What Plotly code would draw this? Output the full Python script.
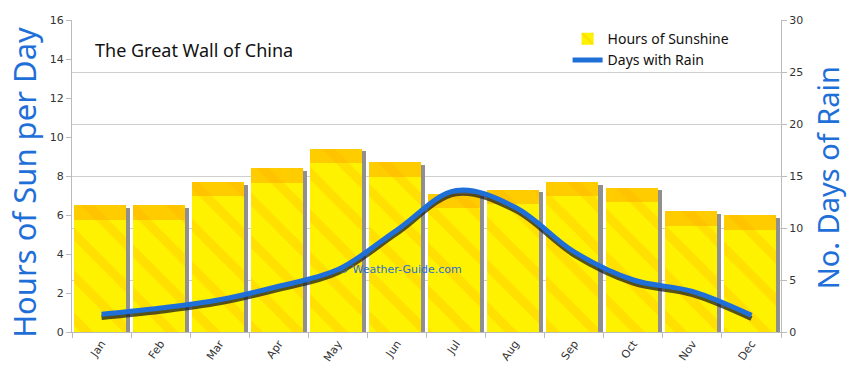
import plotly.graph_objects as go

months = ["Jan", "Feb", "Mar", "Apr", "May", "Jun", "Jul", "Aug", "Sep", "Oct", "Nov", "Dec"]
sun_hours = [6.5, 6.5, 7.7, 8.4, 9.4, 8.7, 7.1, 7.3, 7.7, 7.4, 6.2, 6.0]
rain_days = [1.7, 2.3, 3.1, 4.4, 6.0, 9.8, 13.6, 12.0, 7.7, 5.0, 3.9, 1.6]
sun_ticks = [0, 2, 4, 6, 8, 10, 12, 14, 16]
rain_ticks = [0, 5, 10, 15, 20, 25, 30]

BLUE = "#1f6fd8"
TICKFONT = dict(family="DejaVu Sans", size=11, color="#333333")
HAND = "Noto Sans"

fig = go.Figure()

# bar shadows
fig.add_trace(go.Bar(
    x=months, y=[v - 0.14 for v in sun_hours], width=0.88, offset=-0.40,
    marker=dict(color="#8f8f8f", line=dict(width=0)),
    showlegend=False, hoverinfo="skip", yaxis="y"))

# main bars
fig.add_trace(go.Bar(
    x=months, y=sun_hours, width=0.88, offset=-0.47, name="Hours of Sunshine",
    marker=dict(color="#fff200", line=dict(width=0),
                pattern=dict(shape="\\", fgcolor="#ffb400", fgopacity=0.3,
                             size=30, solidity=0.3)),
    yaxis="y"))

# orange top band on each bar
fig.add_trace(go.Bar(
    x=months, y=[0.75] * len(months), base=[v - 0.75 for v in sun_hours],
    width=0.88, offset=-0.47,
    marker=dict(color="rgba(255,165,0,0.5)", line=dict(width=0)),
    showlegend=False, hoverinfo="skip", yaxis="y"))

# line shadow
fig.add_trace(go.Scatter(
    x=months, y=[v - 0.3 for v in rain_days], mode="lines",
    line=dict(color="rgba(30,30,30,0.75)", width=5, shape="spline"),
    showlegend=False, hoverinfo="skip", yaxis="y2"))

# rain line
fig.add_trace(go.Scatter(
    x=months, y=rain_days, mode="lines", name="Days with Rain",
    line=dict(color=BLUE, width=5, shape="spline"), yaxis="y2"))

fig.update_layout(
    width=850, height=374,
    margin=dict(l=72, r=69, t=20, b=42, autoexpand=False),
    paper_bgcolor="white", plot_bgcolor="white",
    barmode="overlay", bargap=0,
    showlegend=True,
    legend=dict(x=0.699, y=0.99, xanchor="left", yanchor="top",
                font=dict(family=HAND, size=14, color="#111111"),
                bgcolor="rgba(0,0,0,0)", itemwidth=30, tracegroupgap=2),
    xaxis=dict(type="category", showgrid=False, showline=True, linecolor="#bbbbbb",
               linewidth=1, ticks="outside", tickson="boundaries", ticklen=5,
               tickcolor="#bbbbbb", tickangle=-55, tickfont=TICKFONT,
               range=[-0.5, 11.5], automargin=False),
    yaxis=dict(range=[0, 16], tickvals=sun_ticks, showgrid=False, showline=True,
               linecolor="#bbbbbb", ticks="outside", ticklen=5, tickcolor="#bbbbbb",
               tickfont=TICKFONT, zeroline=False, automargin=False),
    yaxis2=dict(range=[0, 30], tickvals=rain_ticks, overlaying="y", side="right",
                showgrid=True, gridcolor="#cfcfcf", gridwidth=1, showline=True,
                linecolor="#bbbbbb", ticks="outside", ticklen=5, tickcolor="#bbbbbb",
                tickfont=TICKFONT, zeroline=False, automargin=False),
    annotations=[
        dict(text="The Great Wall of China", xref="paper", yref="paper",
             x=0.0296, y=0.904, xanchor="left", yanchor="middle", showarrow=False,
             font=dict(family=HAND, size=18, color="#111111")),
        dict(text="© Weather-Guide.com", xref="paper", yref="paper",
             x=0.4626, y=0.199, xanchor="center", yanchor="middle", showarrow=False,
             font=dict(family="DejaVu Sans", size=11, color="#2a6fd1")),
        dict(text="Hours of Sun per Day", xref="paper", yref="paper",
             x=-0.0677, y=0.478, xanchor="center", yanchor="middle", textangle=-90,
             showarrow=False, font=dict(family=HAND, size=31, color=BLUE)),
        dict(text="No. Days of Rain", xref="paper", yref="paper",
             x=1.066, y=0.495, xanchor="center", yanchor="middle", textangle=-90,
             showarrow=False, font=dict(family=HAND, size=29, color=BLUE)),
    ],
)

fig.write_html("out.html", config={"displayModeBar": False},
               post_script="document.body.style.margin='0';document.body.style.overflow='hidden';")
